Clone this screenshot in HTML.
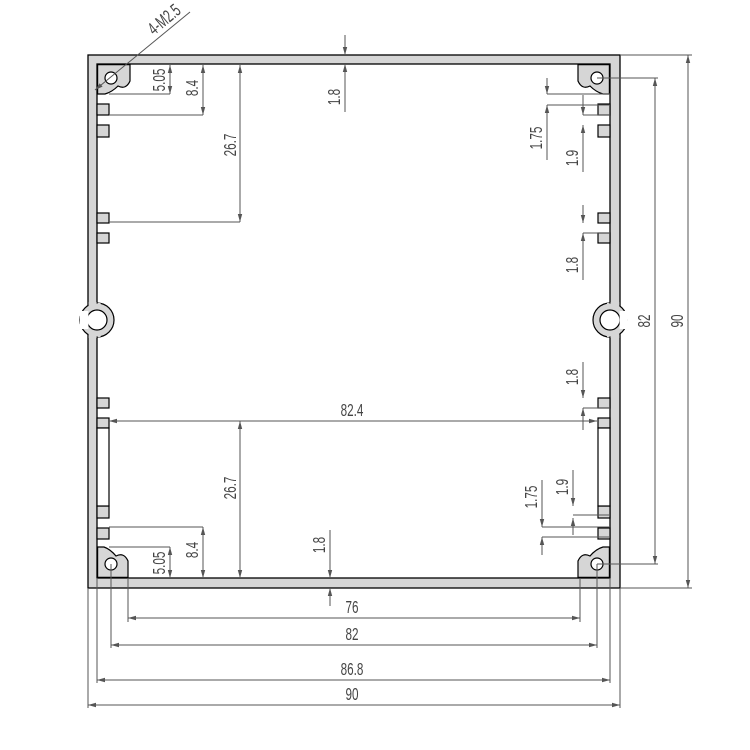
<!DOCTYPE html>
<html><head><meta charset="utf-8"><style>
html,body{margin:0;padding:0;background:#fff;}
svg{display:block}
text{font-family:"Liberation Sans Narrow","Liberation Sans",sans-serif;font-size:18px;fill:#444;}
</style></head><body>
<svg width="750" height="750" viewBox="0 0 750 750" xmlns="http://www.w3.org/2000/svg">
<defs>
<marker id="a" markerWidth="8" markerHeight="6" refX="8" refY="3" orient="auto-start-reverse" markerUnits="userSpaceOnUse"><path d="M0,0.8 L8,3 L0,5.2z" fill="#555"/></marker>
</defs>
<g stroke="#000" stroke-width="1.3" fill="#d6d6d6">
<rect x="88" y="55" width="532" height="533"/>
<rect x="97" y="64" width="513" height="514" fill="#fff"/>
</g>
<g fill="#d6d6d6" stroke="#000" stroke-width="1.2">
<path d="M97.6,64.6 H130 V81 Q126,90 118,86 Q112,92 105,94 H97.6z"/>
<path d="M97.6,577.4 H128 V561 Q124,552 116,556 Q110,549 104,547 H97.6z"/>
<path d="M609.4,64.6 H578 V81 Q582,90 590,86 Q596,92 603,94 H609.4z"/>
<path d="M609.4,577.4 H578 V561 Q582,552 590,556 Q596,549 603,547 H609.4z"/>
<rect x="97" y="104" width="12" height="11"/><rect x="97" y="125" width="12" height="12"/>
<rect x="97" y="213" width="12" height="10"/><rect x="97" y="233" width="12" height="10"/>
<rect x="97" y="398" width="12" height="10"/><rect x="97" y="418" width="12" height="10"/>
<rect x="97" y="506" width="12" height="12"/><rect x="97" y="528" width="12" height="11"/>
<rect x="598" y="104" width="12" height="11"/><rect x="598" y="125" width="12" height="12"/>
<rect x="598" y="213" width="12" height="10"/><rect x="598" y="233" width="12" height="10"/>
<rect x="598" y="398" width="12" height="10"/><rect x="598" y="418" width="12" height="10"/>
<rect x="598" y="506" width="12" height="12"/><rect x="598" y="528" width="12" height="11"/>
<circle cx="97" cy="320" r="17"/><circle cx="610" cy="320" r="17"/>
</g>
<g fill="#fff" stroke="#000" stroke-width="1.2">
<circle cx="111" cy="78" r="6"/><circle cx="111" cy="564" r="6"/>
<circle cx="597" cy="78" r="6"/><circle cx="597" cy="564" r="6"/>
<rect x="97" y="428" width="12" height="78"/><rect x="598" y="428" width="12" height="78"/>
</g>
<rect x="88.6" y="302" width="8" height="36" fill="#d6d6d6"/>
<rect x="610.5" y="302" width="8.8" height="36" fill="#d6d6d6"/>
<rect x="97.6" y="303" width="3" height="34" fill="#d6d6d6"/><rect x="607" y="303" width="2.4" height="34" fill="#d6d6d6"/>
<circle cx="97" cy="320" r="10" fill="#fff" stroke="#000" stroke-width="1.2"/>
<circle cx="610" cy="320" r="10" fill="#fff" stroke="#000" stroke-width="1.2"/>
<rect x="80" y="311" width="8.4" height="18" fill="#fff"/>
<rect x="619.6" y="311" width="8" height="18" fill="#fff"/>
<g stroke="#555" stroke-width="1" fill="none">
<path d="M620,55H692 M620,588H692 M597,78H658 M597,564H658"/>
<path d="M128,578V622 M580,578V622 M111,564V648 M597,564V648 M97,578V683 M610,578V683 M88,588V708 M620,588V708"/>
<path d="M109,94H170 M109,115H203 M109,222H240 M109,421H597 M109,527H203 M109,547H170"/>
<path d="M547,94H610 M547,105H610 M583,115H610 M583,233H610 M583,408H610 M573,515H610 M542,527H610 M542,537H610"/>
<path d="M688,55V588" marker-start="url(#a)" marker-end="url(#a)"/>
<path d="M655,78V564" marker-start="url(#a)" marker-end="url(#a)"/>
<path d="M128,618H580" marker-start="url(#a)" marker-end="url(#a)"/>
<path d="M111,645H597" marker-start="url(#a)" marker-end="url(#a)"/>
<path d="M97,680H610" marker-start="url(#a)" marker-end="url(#a)"/>
<path d="M88,705H620" marker-start="url(#a)" marker-end="url(#a)"/>
<path d="M109,421H597" marker-start="url(#a)" marker-end="url(#a)"/>
<path d="M240,65V222" marker-start="url(#a)" marker-end="url(#a)"/>
<path d="M203,65V115" marker-start="url(#a)" marker-end="url(#a)"/>
<path d="M170,65V94" marker-start="url(#a)" marker-end="url(#a)"/>
<path d="M240,421V578" marker-start="url(#a)" marker-end="url(#a)"/>
<path d="M203,527V578" marker-start="url(#a)" marker-end="url(#a)"/>
<path d="M170,547V578" marker-start="url(#a)" marker-end="url(#a)"/>
<path d="M345,35V55" marker-end="url(#a)"/><path d="M345,112V64" marker-end="url(#a)"/>
<path d="M330,530V578" marker-end="url(#a)"/><path d="M330,606V588" marker-end="url(#a)"/>
<path d="M547,78V94" marker-end="url(#a)"/><path d="M547,160V105" marker-end="url(#a)"/>
<path d="M583,95V115" marker-end="url(#a)"/><path d="M583,172V125" marker-end="url(#a)"/>
<path d="M583,205V223" marker-end="url(#a)"/><path d="M583,280V233" marker-end="url(#a)"/>
<path d="M583,362V398" marker-end="url(#a)"/><path d="M583,430V408" marker-end="url(#a)"/>
<path d="M573,470V506" marker-end="url(#a)"/><path d="M573,535V518" marker-end="url(#a)"/>
<path d="M542,480V527" marker-end="url(#a)"/><path d="M542,555V537" marker-end="url(#a)"/>
<path d="M190,12L95,90" marker-end="url(#a)"/>
</g>
<g text-anchor="middle">
<text transform="translate(352,613) scale(0.65,1)">76</text>
<text transform="translate(352,640) scale(0.65,1)">82</text>
<text transform="translate(352,675) scale(0.65,1)">86.8</text>
<text transform="translate(352,700) scale(0.65,1)">90</text>
<text transform="translate(352,416) scale(0.65,1)">82.4</text>
<text transform="translate(683,321) rotate(-90) scale(0.65,1)">90</text>
<text transform="translate(650,321) rotate(-90) scale(0.65,1)">82</text>
<text transform="translate(236,145) rotate(-90) scale(0.65,1)">26.7</text>
<text transform="translate(198,88) rotate(-90) scale(0.65,1)">8.4</text>
<text transform="translate(165,80) rotate(-90) scale(0.65,1)">5.05</text>
<text transform="translate(340,97) rotate(-90) scale(0.65,1)">1.8</text>
<text transform="translate(236,488) rotate(-90) scale(0.65,1)">26.7</text>
<text transform="translate(198,550) rotate(-90) scale(0.65,1)">8.4</text>
<text transform="translate(165,563) rotate(-90) scale(0.65,1)">5.05</text>
<text transform="translate(325,545) rotate(-90) scale(0.65,1)">1.8</text>
<text transform="translate(542,138) rotate(-90) scale(0.65,1)">1.75</text>
<text transform="translate(578,158) rotate(-90) scale(0.65,1)">1.9</text>
<text transform="translate(578,265) rotate(-90) scale(0.65,1)">1.8</text>
<text transform="translate(578,377) rotate(-90) scale(0.65,1)">1.8</text>
<text transform="translate(568,487) rotate(-90) scale(0.65,1)">1.9</text>
<text transform="translate(537,497) rotate(-90) scale(0.65,1)">1.75</text>
<text transform="translate(168,24) rotate(-40) scale(0.65,1)">4-M2.5</text>
</g>
</svg>
</body></html>
